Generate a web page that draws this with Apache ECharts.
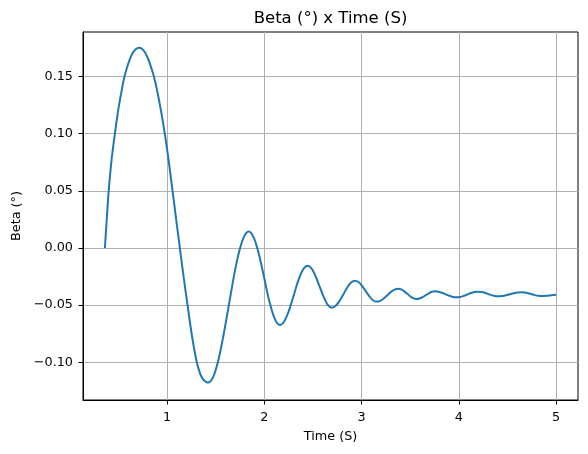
<!DOCTYPE html>
<html>
<head>
<meta charset="utf-8">
<script src="https://cdn.jsdelivr.net/npm/echarts@6/dist/echarts.min.js"></script>
<style>
html,body{margin:0;padding:0;background:#fff;}
#chart{width:588px;height:454px;}
</style>
</head>
<body>
<div id="chart"></div>
<script>
const timeS = [
  0.360,0.380,0.401,0.430,0.463,0.500,0.530,0.558,0.600,0.640,0.680,0.713,
  0.740,0.770,0.800,0.830,0.864,0.900,0.940,0.980,1.020,1.056,
  1.095,1.131,1.170,1.210,1.255,1.303,1.340,1.370,1.400,1.422,
  1.474,1.526,1.578,1.631,1.683,1.709,1.735,1.761,1.787,1.813,1.839,
  1.892,1.946,1.999,2.052,2.106,2.159,
  2.207,2.254,2.302,2.349,2.397,2.444,
  2.486,2.527,2.569,2.611,2.652,2.694,
  2.734,2.773,2.813,2.852,2.892,2.931,
  2.968,3.005,3.043,3.080,3.117,3.154,
  3.191,3.228,3.265,3.302,3.339,3.376,
  3.408,3.439,3.471,3.502,3.534,3.565,
  3.596,3.628,3.659,3.690,3.722,3.753,
  3.790,3.827,3.865,3.902,3.939,3.976,
  4.013,4.050,4.087,4.124,4.161,4.198,
  4.232,4.267,4.301,4.335,4.370,4.404,
  4.444,4.484,4.525,4.565,4.605,4.645,
  4.679,4.713,4.748,4.782,4.816,4.850,
  4.900,4.950,5.000
];
const betaDeg = [
  0,0.026,0.052,0.078,0.100,0.122,0.1365,0.1485,0.1610,0.1695,0.1739,0.1750,
  0.1742,0.1713,0.1663,0.1593,0.1500,0.1365,0.1185,0.0977,0.0737,0.0497,
  0.0237,0,-0.0255,-0.0500,-0.0765,-0.0990,-0.1100,-0.1148,-0.1170,-0.1177,
  -0.1127,-0.0984,-0.0770,-0.0517,-0.0264,-0.0150,-0.0050,0.0031,0.0093,0.0130,0.0143,
  0.0088,-0.0061,-0.0265,-0.0469,-0.0618,-0.0673,
  -0.0638,-0.0544,-0.0414,-0.0284,-0.0190,-0.0155,
  -0.0180,-0.0247,-0.0339,-0.0430,-0.0497,-0.0522,
  -0.0506,-0.0463,-0.0404,-0.0345,-0.0302,-0.0286,
  -0.0298,-0.0332,-0.0378,-0.0423,-0.0457,-0.0469,
  -0.0462,-0.0441,-0.0413,-0.0384,-0.0364,-0.0356,
  -0.0362,-0.0379,-0.0401,-0.0424,-0.0440,-0.0446,
  -0.0442,-0.0429,-0.0413,-0.0396,-0.0383,-0.0379,
  -0.0382,-0.0392,-0.0405,-0.0418,-0.0428,-0.0431,
  -0.0428,-0.0419,-0.0407,-0.0394,-0.0385,-0.0382,
  -0.0385,-0.0392,-0.0402,-0.0412,-0.0419,-0.0422,
  -0.0420,-0.0413,-0.0405,-0.0396,-0.0389,-0.0387,
  -0.0389,-0.0395,-0.0404,-0.0412,-0.0418,-0.0420,
  -0.0418,-0.0413,-0.0408
];
const xTicks = [1,2,3,4,5];
const yTicks = [-0.10,-0.05,0.00,0.05,0.10,0.15];
const titleText = 'Beta (°) x Time (S)';
const xName = 'Time (S)';
const yName = 'Beta (°)';

const FONT = 'DejaVu Sans';
const chart = echarts.init(document.getElementById('chart'), null, {renderer:'canvas'});
const data = timeS.map((t,i)=>[t, betaDeg[i]]);
const fmtY = v => (v < 0 ? '\u2212' : '') + Math.abs(v).toFixed(2);

chart.setOption({
  animation: false,
  backgroundColor: '#fff',
  graphic: [{
    type: 'text', x: 330.5, y: 18.5,
    style: {text: titleText, fill: '#000', font: '16.5px "DejaVu Sans"', align: 'center', verticalAlign: 'middle'}
  }],
  grid: {left: 83, top: 32, width: 495, height: 368, show: true, borderColor: '#000', borderWidth: 1, backgroundColor: 'transparent'},
  xAxis: {
    type: 'value', min: 0.135, max: 5.225, splitNumber: 5,
    name: xName, nameLocation: 'middle', nameGap: 30,
    nameTextStyle: {fontFamily: FONT, fontSize: 12.8, color: '#000'},
    axisLine: {show: true, onZero: false, lineStyle: {color: '#000', width: 1}},
    axisTick: {show: true, length: 4.5, customValues: xTicks, lineStyle: {color: '#000', width: 1}},
    axisLabel: {customValues: xTicks, margin: 11, fontFamily: FONT, fontSize: 12.8, color: '#000', formatter: v => String(v)},
    splitLine: {show: true, lineStyle: {color: '#b0b0b0', width: 1}}
  },
  yAxis: {
    type: 'value', min: -0.1329, max: 0.1888, splitNumber: 5,
    name: yName, nameLocation: 'middle', nameGap: 60, nameRotate: 90,
    nameTextStyle: {fontFamily: FONT, fontSize: 12.8, color: '#000'},
    axisLine: {show: true, onZero: false, lineStyle: {color: '#000', width: 1}},
    axisTick: {show: true, length: 4.5, customValues: yTicks, lineStyle: {color: '#000', width: 1}},
    axisLabel: {customValues: yTicks, margin: 10, fontFamily: FONT, fontSize: 12.8, color: '#000', formatter: fmtY},
    splitLine: {show: true, lineStyle: {color: '#b0b0b0', width: 1}}
  },
  series: [{
    type: 'line', data: data, showSymbol: false, smooth: 0.3,
    lineStyle: {color: '#1f77b4', width: 2}, itemStyle: {color: '#1f77b4'}
  }]
});
</script>
</body>
</html>
